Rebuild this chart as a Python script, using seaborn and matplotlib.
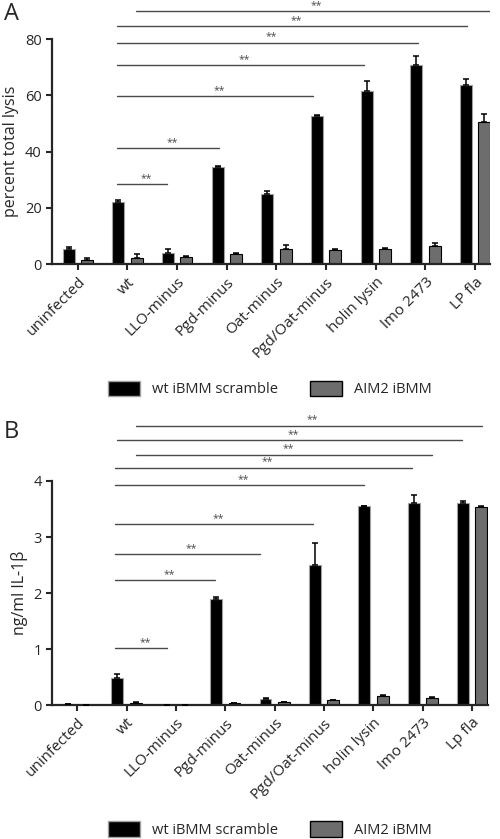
import numpy as np
import pandas as pd
import matplotlib
matplotlib.use("Agg")
import matplotlib.pyplot as plt
import seaborn as sns
from matplotlib.patches import Patch

# data
categories = ["uninfected", "wt", "LLO-minus", "Pgd-minus", "Oat-minus",
              "Pgd/Oat-minus", "holin lysin", "lmo 2473", "LP fla"]
categories_b = ["uninfected", "wt", "LLO-minus", "Pgd-minus", "Oat-minus",
                "Pgd/Oat-minus", "holin lysin", "lmo 2473", "Lp fla"]
groups = ["wt iBMM scramble", "AIM2 iBMM"]

# panel A - percent total lysis
lysis_wt = [5.2, 22.2, 4.0, 34.6, 24.8, 52.5, 61.4, 70.8, 63.6]
lysis_wt_err = [1.0, 0.6, 1.2, 0.3, 1.3, 0.5, 3.8, 3.2, 2.1]
lysis_aim2 = [1.4, 2.2, 2.4, 3.6, 5.4, 5.0, 5.2, 6.5, 50.5]
lysis_aim2_err = [0.7, 1.2, 0.3, 0.3, 1.2, 0.3, 0.4, 1.0, 2.8]

# panel B - ng/ml IL-1b
il1b_wt = [0.02, 0.49, 0.0, 1.90, 0.11, 2.50, 3.55, 3.61, 3.60]
il1b_wt_err = [0.005, 0.07, 0.0, 0.02, 0.01, 0.40, 0.01, 0.14, 0.04]
il1b_aim2 = [0.003, 0.04, 0.0, 0.03, 0.05, 0.085, 0.16, 0.125, 3.54]
il1b_aim2_err = [0.0, 0.005, 0.0, 0.005, 0.01, 0.005, 0.01, 0.015, 0.02]

# significance brackets: (x start, x end, height)
sig_a = [(0.79, 1.79, 28.3), (0.79, 2.84, 41.1), (0.79, 4.74, 59.7),
         (0.79, 5.77, 70.8), (0.79, 6.85, 78.7), (0.79, 7.84, 84.5),
         (1.17, 8.27, 90.0)]
sig_b = [(0.77, 1.82, 1.02), (0.77, 2.79, 2.23), (0.77, 3.70, 2.70),
         (0.77, 4.78, 3.23), (0.77, 5.81, 3.92), (0.77, 6.78, 4.24),
         (1.19, 7.19, 4.47), (0.81, 7.80, 4.73), (1.19, 8.19, 4.99)]

BLACK = "#000000"
GREY = "#6d6d6d"

sns.set_style("ticks")
plt.rcParams["font.family"] = ["Open Sans", "DejaVu Sans"]


def draw_panel(ax, cats, wt, wt_err, aim2, aim2_err, sig, ymax, yticks,
               ylabel, xlim, star_dy):
    df = pd.DataFrame({
        "strain": cats * 2,
        "value": wt + aim2,
        "cell": [groups[0]] * len(cats) + [groups[1]] * len(cats),
    })
    sns.barplot(data=df, x="strain", y="value", hue="cell",
                palette=[BLACK, GREY], width=0.74, gap=0.35,
                errorbar=None, legend=False, ax=ax, saturation=1)
    edge = ["#a0a0a0", "black"]
    for cont, err, ec in zip(ax.containers, [wt_err, aim2_err], edge):
        for p in cont:
            p.set_edgecolor(ec)
            p.set_linewidth(0.8)
        xs = [p.get_x() + p.get_width() / 2 for p in cont]
        hs = [p.get_height() for p in cont]
        ax.errorbar(xs, hs, yerr=[np.zeros(len(err)), err], fmt="none",
                    ecolor="black", elinewidth=1.1, capsize=2.5,
                    capthick=1.1, zorder=3)

    # significance lines with stars
    for x0, x1, y in sig:
        ax.plot([x0, x1], [y, y], color="#4a4a4a", lw=1.0, clip_on=False)
        ax.text((x0 + x1) / 2 + 0.08, y + star_dy, "**", ha="center",
                va="center", fontsize=7.5, color="#4a4a4a", clip_on=False)

    ax.set_ylim(0, ymax)
    ax.set_xlim(*xlim)
    ax.set_yticks(yticks)
    ax.set_xlabel("")
    ax.set_ylabel(ylabel, fontsize=11.5, labelpad=4)
    sns.despine(ax=ax)
    for s in ["left", "bottom"]:
        ax.spines[s].set_linewidth(1.6)
    ax.tick_params(axis="both", length=4, width=1.5, labelsize=10.5)
    ax.set_xticks(range(len(cats)))
    ax.set_xticklabels(cats, rotation=45, ha="right", va="top",
                       rotation_mode="anchor", fontsize=11)


fig = plt.figure(figsize=(5.0, 8.39), dpi=100)

ax_a = fig.add_axes([0.104, 0.6853, 0.876, 0.2682])
draw_panel(ax_a, categories, lysis_wt, lysis_wt_err, lysis_aim2,
           lysis_aim2_err, sig_a, 80, [0, 20, 40, 60, 80],
           "percent total lysis", (-0.52, 8.3), 2.0)

ax_b = fig.add_axes([0.104, 0.1597, 0.872, 0.267])
draw_panel(ax_b, categories_b, il1b_wt, il1b_wt_err, il1b_aim2,
           il1b_aim2_err, sig_b, 4, [0, 1, 2, 3, 4],
           "ng/ml IL-1\u03b2", (-0.51, 8.32), 0.1)

fig.text(0.008, 0.998, "A", ha="left", va="top", fontsize=17)
fig.text(0.008, 0.500, "B", ha="left", va="top", fontsize=17)

handles = [Patch(facecolor=BLACK, edgecolor="#a0a0a0"),
           Patch(facecolor=GREY, edgecolor="black")]
for yc in [0.5364, 0.0115]:
    fig.legend(handles, groups, loc="center", bbox_to_anchor=(0.54, yc),
               ncol=2, frameon=False, fontsize=10.5, handlelength=2.2,
               handleheight=1.3, columnspacing=2.2, handletextpad=0.8)

fig.savefig("out.png", dpi=100)
